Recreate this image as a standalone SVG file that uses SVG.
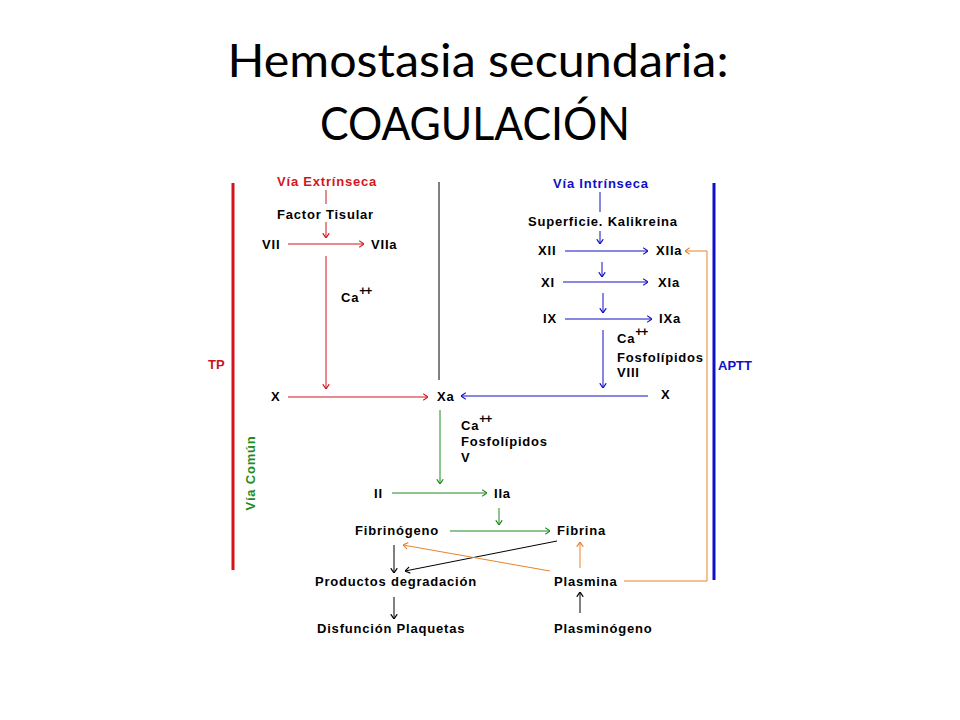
<svg xmlns="http://www.w3.org/2000/svg" width="960" height="720" viewBox="0 0 960 720">
<style>
.t{font-family:"Liberation Sans",Arial,sans-serif;font-weight:bold;font-size:13px;letter-spacing:0.8px;fill:#000}
.title{font-family:Lato,"Open Sans",sans-serif;font-size:47px;fill:#000;text-anchor:middle}
.sup{font-size:12px;letter-spacing:-1px}
.r{stroke:#d4141c;fill:none;stroke-width:1}
.b{stroke:#1010c8;fill:none;stroke-width:1}
.g{stroke:#1e8c1e;fill:none;stroke-width:1}
.o{stroke:#e8832a;fill:none;stroke-width:1}
.k{stroke:#000;fill:none;stroke-width:1}
</style>
<defs>
<marker id="ar" viewBox="0 0 10 10" refX="10" refY="5" markerWidth="6" markerHeight="8" markerUnits="userSpaceOnUse" orient="auto" preserveAspectRatio="none"><path d="M2,1 L10,5 L2,9" fill="none" stroke="#d4141c" stroke-width="1.6"/></marker>
<marker id="ab" viewBox="0 0 10 10" refX="10" refY="5" markerWidth="6" markerHeight="8" markerUnits="userSpaceOnUse" orient="auto" preserveAspectRatio="none"><path d="M2,1 L10,5 L2,9" fill="none" stroke="#1010c8" stroke-width="1.6"/></marker>
<marker id="ag" viewBox="0 0 10 10" refX="10" refY="5" markerWidth="6" markerHeight="8" markerUnits="userSpaceOnUse" orient="auto" preserveAspectRatio="none"><path d="M2,1 L10,5 L2,9" fill="none" stroke="#1e8c1e" stroke-width="1.6"/></marker>
<marker id="ao" viewBox="0 0 10 10" refX="10" refY="5" markerWidth="6" markerHeight="8" markerUnits="userSpaceOnUse" orient="auto" preserveAspectRatio="none"><path d="M2,1 L10,5 L2,9" fill="none" stroke="#e8832a" stroke-width="1.6"/></marker>
<marker id="ak" viewBox="0 0 10 10" refX="10" refY="5" markerWidth="6" markerHeight="8" markerUnits="userSpaceOnUse" orient="auto" preserveAspectRatio="none"><path d="M2,1 L10,5 L2,9" fill="none" stroke="#000" stroke-width="1.6"/></marker>
</defs>
<rect width="960" height="720" fill="#fff"/>
<g id="title">
<text class="title" x="478" y="77" textLength="501" lengthAdjust="spacingAndGlyphs">Hemostasia secundaria:</text>
<text class="title" x="475" y="140" textLength="310" lengthAdjust="spacingAndGlyphs">COAGULACIÓN</text>
</g>
<g id="bars">
<line x1="233" y1="183" x2="233" y2="570" stroke="#d4141c" stroke-width="3"/>
<line x1="714" y1="183" x2="714" y2="580" stroke="#1010c8" stroke-width="3"/>
<line x1="439" y1="182" x2="439" y2="380" stroke="#000" stroke-width="1"/>
</g>
<g id="connectors">
<line class="r" x1="326" y1="190" x2="326" y2="204"/>
<line class="r" x1="326" y1="222" x2="326" y2="238" marker-end="url(#ar)"/>
<line class="r" x1="288" y1="244" x2="364" y2="244" marker-end="url(#ar)"/>
<line class="r" x1="326" y1="256" x2="326" y2="389" marker-end="url(#ar)"/>
<line class="r" x1="288" y1="397" x2="428" y2="397" marker-end="url(#ar)"/>
<line class="b" x1="600" y1="192" x2="600" y2="212"/>
<line class="b" x1="600" y1="231" x2="600" y2="244" marker-end="url(#ab)"/>
<line class="b" x1="565" y1="251" x2="648" y2="251" marker-end="url(#ab)"/>
<line class="b" x1="602" y1="262" x2="602" y2="277" marker-end="url(#ab)"/>
<line class="b" x1="563" y1="282" x2="648" y2="282" marker-end="url(#ab)"/>
<line class="b" x1="603" y1="293" x2="603" y2="313" marker-end="url(#ab)"/>
<line class="b" x1="565" y1="319" x2="652" y2="319" marker-end="url(#ab)"/>
<line class="b" x1="603" y1="330" x2="603" y2="388" marker-end="url(#ab)"/>
<line class="b" x1="648" y1="396" x2="461" y2="396" marker-end="url(#ab)"/>
<line class="g" x1="440" y1="410" x2="440" y2="484" marker-end="url(#ag)"/>
<line class="g" x1="392" y1="493" x2="487" y2="493" marker-end="url(#ag)"/>
<line class="g" x1="499" y1="508" x2="499" y2="525" marker-end="url(#ag)"/>
<line class="g" x1="450" y1="531" x2="550" y2="531" marker-end="url(#ag)"/>
<line class="k" x1="557" y1="541" x2="405" y2="571" marker-end="url(#ak)"/>
<line class="k" x1="394" y1="545" x2="394" y2="573" marker-end="url(#ak)"/>
<line class="k" x1="394" y1="597" x2="394" y2="619" marker-end="url(#ak)"/>
<line class="k" x1="580" y1="613" x2="580" y2="592" marker-end="url(#ak)"/>
<line class="o" x1="550" y1="571" x2="403" y2="545" marker-end="url(#ao)"/>
<line class="o" x1="580" y1="568" x2="580" y2="542" marker-end="url(#ao)"/>
<polyline class="o" points="624,581 707,581 707,251 685,251" marker-end="url(#ao)"/>
</g>
<g id="via-extrinseca"><text class="t" x="277" y="186" style="fill:#d4141c">Vía Extrínseca</text></g>
<g id="factor-tisular"><text class="t" x="277" y="219">Factor Tisular</text></g>
<g id="vii"><text class="t" x="262" y="249">VII</text></g>
<g id="viia"><text class="t" x="371" y="249">VIIa</text></g>
<g id="ca-ext"><text class="t" x="341" y="302">Ca<tspan class="sup" dy="-7">++</tspan></text></g>
<g id="x-ext"><text class="t" x="271" y="401">X</text></g>
<g id="xa"><text class="t" x="437" y="401">Xa</text></g>
<g id="tp"><text class="t" x="208" y="369" style="fill:#c8141c;letter-spacing:0">TP</text></g>
<g id="via-intrinseca"><text class="t" x="553" y="188" style="fill:#1010c8">Vía Intrínseca</text></g>
<g id="superficie"><text class="t" x="528" y="226">Superficie. Kalikreina</text></g>
<g id="xii"><text class="t" x="538" y="255">XII</text></g>
<g id="xiia"><text class="t" x="656" y="255">XIIa</text></g>
<g id="xi"><text class="t" x="541" y="287">XI</text></g>
<g id="xia"><text class="t" x="658" y="287">XIa</text></g>
<g id="ix"><text class="t" x="543" y="323">IX</text></g>
<g id="ixa"><text class="t" x="659" y="323">IXa</text></g>
<g id="cofactors-int"><text class="t" x="617" y="343">Ca<tspan class="sup" dy="-7">++</tspan></text><text class="t" x="617" y="362">Fosfolípidos</text><text class="t" x="617" y="377">VIII</text></g>
<g id="x-int"><text class="t" x="661" y="399">X</text></g>
<g id="aptt"><text class="t" x="718" y="370" style="fill:#1010c8;letter-spacing:0">APTT</text></g>
<g id="via-comun"><text class="t" transform="translate(255,473) rotate(-90)" text-anchor="middle" style="fill:#1e8c1e">Vía Común</text></g>
<g id="cofactors-com"><text class="t" x="461" y="430">Ca<tspan class="sup" dy="-7">++</tspan></text><text class="t" x="461" y="446">Fosfolípidos</text><text class="t" x="461" y="462">V</text></g>
<g id="ii"><text class="t" x="374" y="498">II</text></g>
<g id="iia"><text class="t" x="494" y="498">IIa</text></g>
<g id="fibrinogeno"><text class="t" x="355" y="535">Fibrinógeno</text></g>
<g id="fibrina"><text class="t" x="557" y="535">Fibrina</text></g>
<g id="productos"><text class="t" x="315" y="586">Productos degradación</text></g>
<g id="plasmina"><text class="t" x="554" y="586">Plasmina</text></g>
<g id="disfuncion"><text class="t" x="317" y="633">Disfunción Plaquetas</text></g>
<g id="plasminogeno"><text class="t" x="554" y="633">Plasminógeno</text></g>
</svg>
